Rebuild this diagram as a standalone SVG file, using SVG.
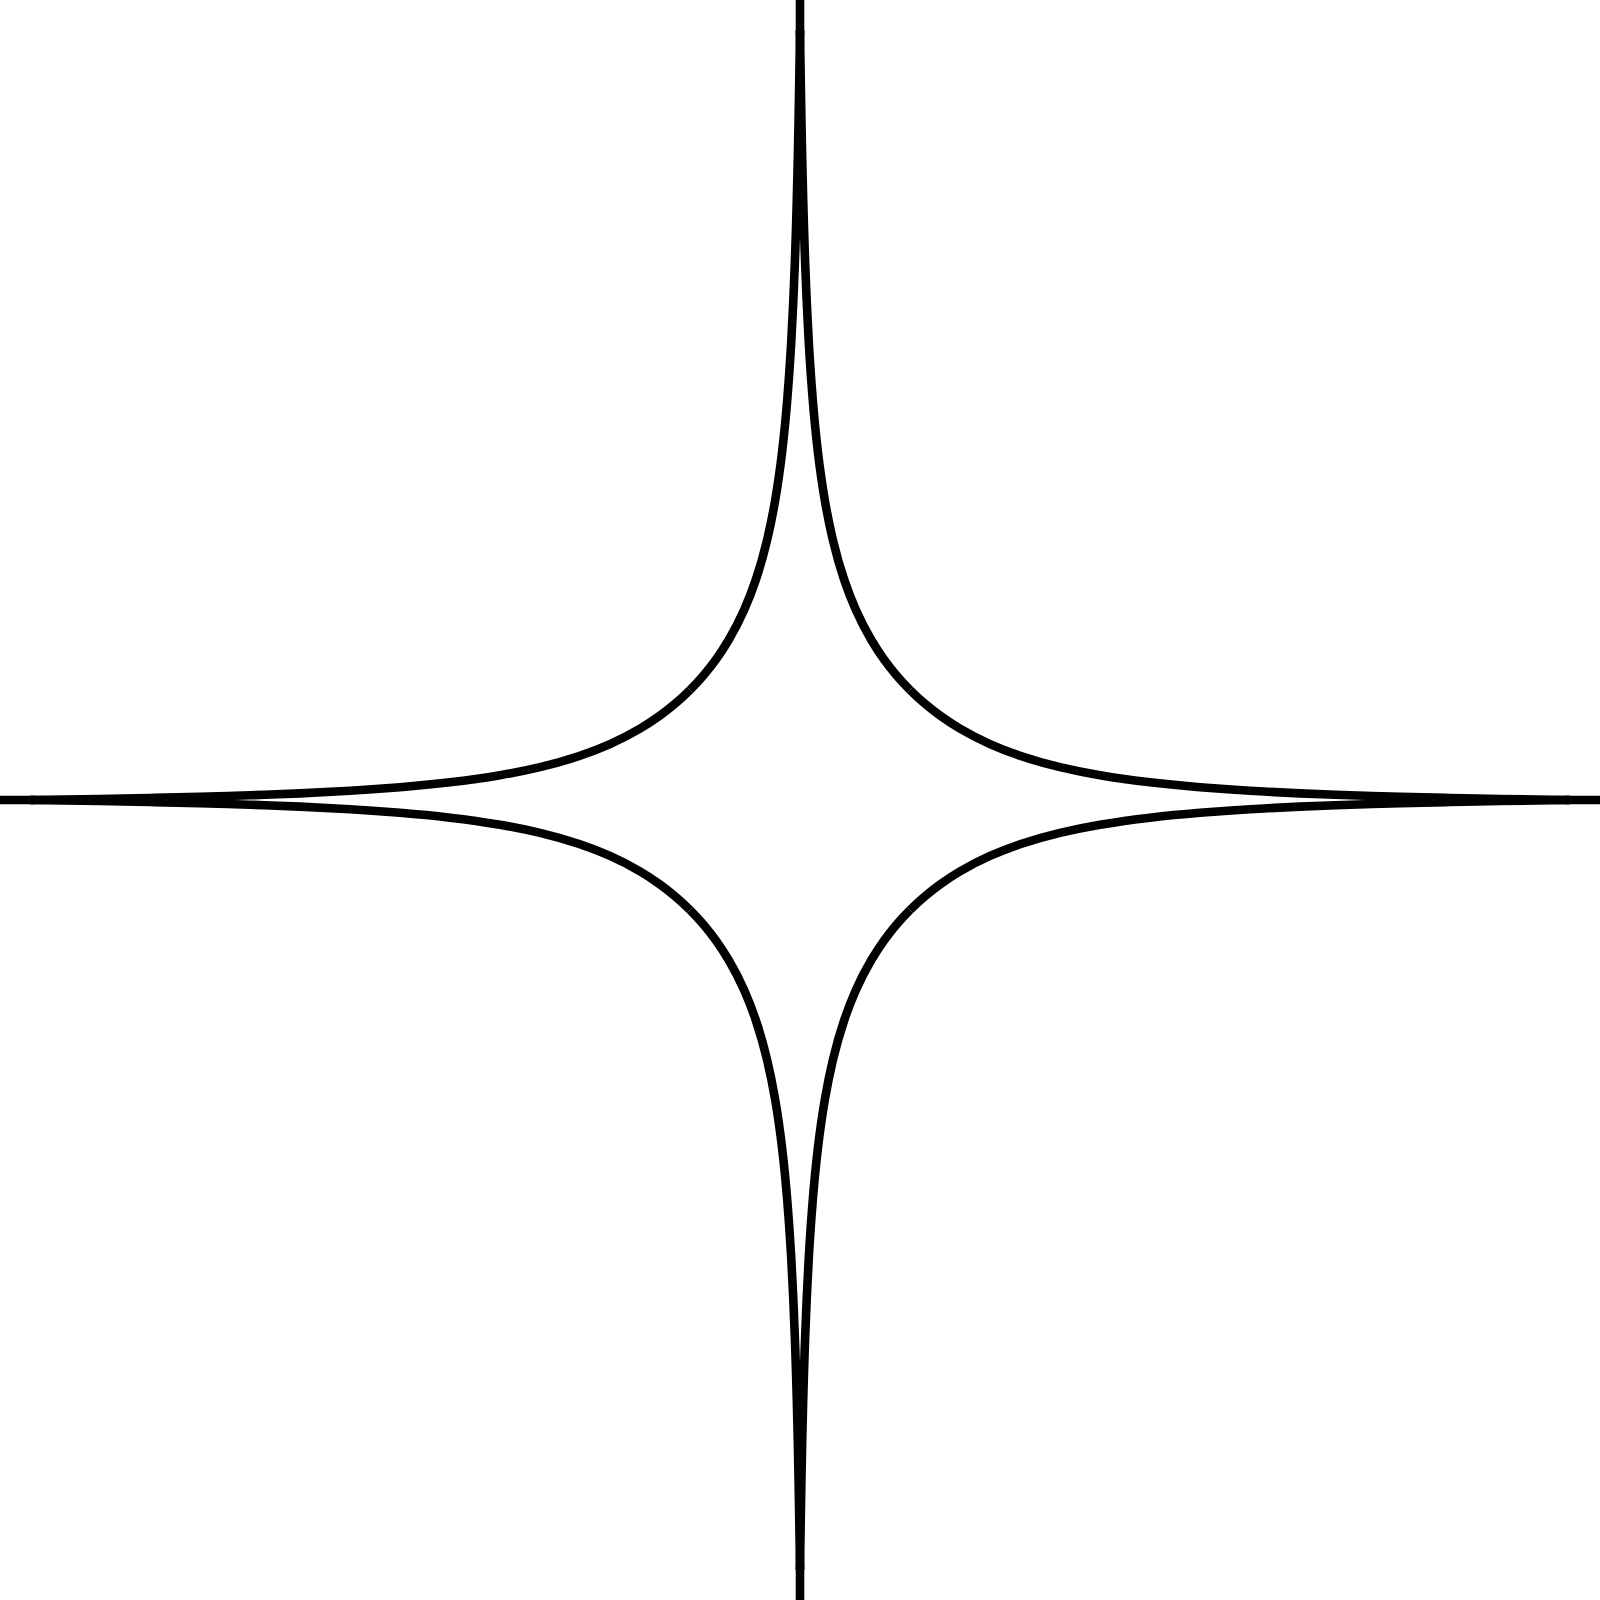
<svg xmlns="http://www.w3.org/2000/svg" xmlns:xlink="http://www.w3.org/1999/xlink" width="1600" height="1600" viewBox="0 0 1600 1600">
  <style>
    .ink { fill: none; stroke: #000; stroke-width: 8.6; stroke-linecap: butt; stroke-linejoin: round; }
  </style>
  <defs>
    <path id="eighth" d="M0,-770 C-0.3,-746.66 -0.67,-723.34 -1.07,-700 C-1.35,-683.33 -1.66,-666.67 -2.01,-650 C-2.36,-633.33 -2.75,-616.66 -3.19,-600 C-3.63,-583.34 -4.13,-566.66 -4.7,-550 C-5.27,-533.33 -5.91,-516.66 -6.65,-500 C-7.39,-483.33 -8.24,-466.66 -9.24,-450 C-10.24,-433.32 -11.39,-416.65 -12.76,-400 C-14.14,-383.31 -15.73,-366.64 -17.67,-350 C-19.62,-333.28 -21.93,-316.59 -24.77,-300 C-27.07,-286.6 -29.73,-273.23 -32.88,-260 C-36.09,-246.52 -39.82,-233.13 -44.26,-220 C-47.69,-209.83 -51.56,-199.8 -55.92,-190 C-60.49,-179.73 -65.62,-169.67 -71.34,-160 C-75.4,-153.14 -79.76,-146.46 -84.43,-140 C-88.15,-134.85 -92.06,-129.85 -96.16,-125 C-100.55,-119.81 -105.19,-114.81 -110,-110"/>
  </defs>
  <rect width="1600" height="1600" fill="#fff"/>
  <g id="star" class="ink" transform="translate(800,800)">
    <use xlink:href="#eighth" href="#eighth"/>
    <use xlink:href="#eighth" href="#eighth" transform="matrix(-1,0,0,1,0,0)"/>
    <use xlink:href="#eighth" href="#eighth" transform="matrix(1,0,0,-1,0,0)"/>
    <use xlink:href="#eighth" href="#eighth" transform="matrix(-1,0,0,-1,0,0)"/>
    <use xlink:href="#eighth" href="#eighth" transform="matrix(0,1,1,0,0,0)"/>
    <use xlink:href="#eighth" href="#eighth" transform="matrix(0,1,-1,0,0,0)"/>
    <use xlink:href="#eighth" href="#eighth" transform="matrix(0,-1,1,0,0,0)"/>
    <use xlink:href="#eighth" href="#eighth" transform="matrix(0,-1,-1,0,0,0)"/>
    <line x1="0" y1="-800" x2="0" y2="-765"/>
    <line x1="0" y1="765" x2="0" y2="800"/>
    <line x1="-800" y1="0" x2="-765" y2="0"/>
    <line x1="765" y1="0" x2="800" y2="0"/>
  </g>
</svg>
